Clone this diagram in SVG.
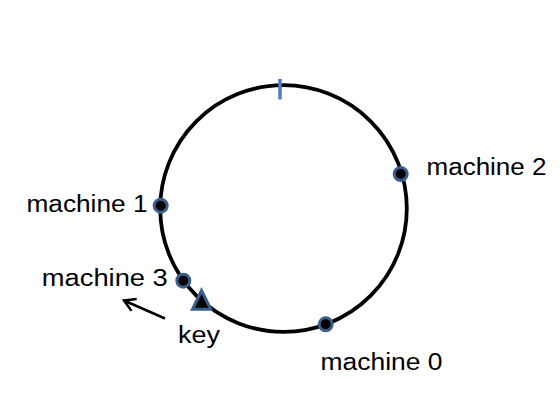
<svg xmlns="http://www.w3.org/2000/svg" width="560" height="420" viewBox="0 0 560 420">
<defs>
<style>
.lbl{font-family:"Liberation Sans",Arial,sans-serif;font-size:23.5px;fill:#000}
.dot{fill:#000;stroke:#3A5F8E;stroke-width:3}
</style>
<marker id="arr" markerWidth="16" markerHeight="16" refX="13" refY="8" orient="auto" markerUnits="userSpaceOnUse" viewBox="0 0 16 16">
<polyline points="2,1.5 13,8 2,14.5" fill="none" stroke="#000" stroke-width="2.5" stroke-linejoin="miter"/>
</marker>
</defs>
<rect width="560" height="420" fill="#fff"/>
<g id="ring">
<circle cx="283.5" cy="208.5" r="123.3" fill="none" stroke="#000" stroke-width="3.8"/>
<line x1="280" y1="79" x2="280" y2="99.5" stroke="#4A7EBB" stroke-width="3.5"/>
</g>
<g id="connectors">
<line x1="165" y1="318.5" x2="124" y2="300.5" stroke="#000" stroke-width="2.5" marker-end="url(#arr)"/>
</g>
<g id="machine0">
<circle class="dot" cx="325.7" cy="324.3" r="6.5"/>
<text class="lbl" x="320.5" y="370" textLength="122" lengthAdjust="spacingAndGlyphs">machine 0</text>
</g>
<g id="machine1">
<circle class="dot" cx="160.7" cy="205.7" r="6.5"/>
<text class="lbl" x="26.5" y="212" textLength="121" lengthAdjust="spacingAndGlyphs">machine 1</text>
</g>
<g id="machine2">
<circle class="dot" cx="400.7" cy="174" r="6.5"/>
<text class="lbl" x="426.5" y="175" textLength="120" lengthAdjust="spacingAndGlyphs">machine 2</text>
</g>
<g id="machine3">
<circle class="dot" cx="183.3" cy="280.7" r="6.5"/>
<text class="lbl" x="41.8" y="286" textLength="126" lengthAdjust="spacingAndGlyphs">machine 3</text>
</g>
<g id="key">
<polygon points="201.5,290.5 192.5,309.3 210.8,309.3" fill="#000" stroke="#3A5F8E" stroke-width="3" stroke-linejoin="miter"/>
<text class="lbl" x="178" y="343" textLength="42" lengthAdjust="spacingAndGlyphs">key</text>
</g>
</svg>
